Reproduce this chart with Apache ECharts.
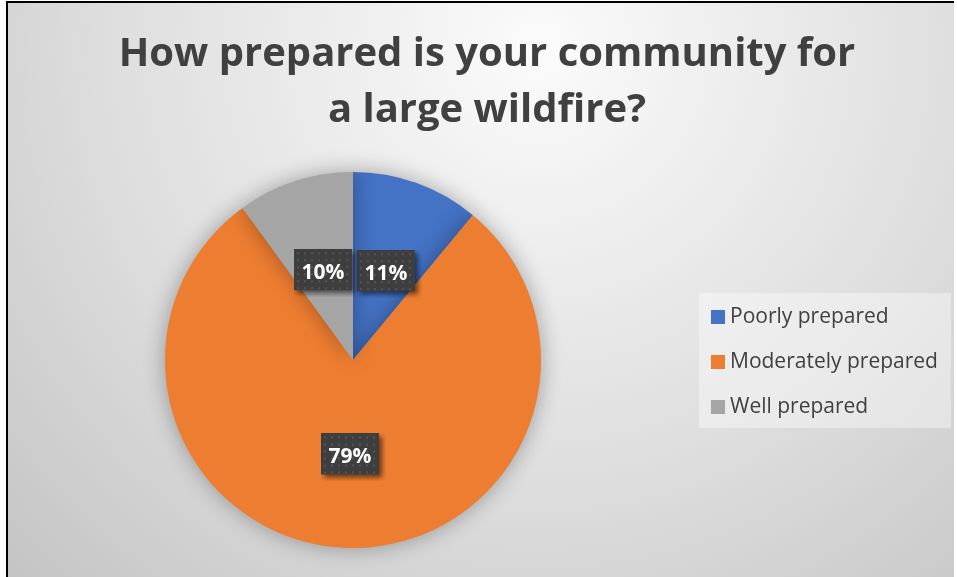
<!DOCTYPE html>
<html>
<head>
<meta charset="utf-8">
<script src="https://cdn.jsdelivr.net/npm/echarts@6/dist/echarts.min.js"></script>
<style>
  html, body { margin: 0; padding: 0; background: #ffffff; width: 957px; height: 577px; overflow: hidden; }
  #frame { position: absolute; left: 6px; top: 1px; width: 946px; height: 574px; border-left: 2px solid #000; border-top: 2px solid #000; }
  #chart { width: 946px; height: 574px; }
</style>
</head>
<body>
<div id="frame"><div id="chart"></div></div>
<script>
const titleText = 'How prepared is your community for\na large wildfire?';
const categories = ['Poorly prepared', 'Moderately prepared', 'Well prepared'];
const values = [11, 79, 10];
const colors = ['#4472C4', '#ED7D31', '#A5A5A5'];

// dotted dark label box with drop shadow, drawn into a canvas used as label background
function makeLabelBg(w, h, extra) {
  const c = document.createElement('canvas');
  c.width = w + extra; c.height = h + extra;
  const ctx = c.getContext('2d');
  ctx.save();
  ctx.shadowColor = 'rgba(0,0,0,0.55)';
  ctx.shadowBlur = 5;
  ctx.shadowOffsetX = 3;
  ctx.shadowOffsetY = 3;
  ctx.fillStyle = '#3e3e3e';
  ctx.fillRect(0, 0, w, h);
  ctx.restore();
  ctx.fillStyle = '#555555';
  for (let y = 3; y < h - 1; y += 7) {
    for (let x = 3; x < w - 1; x += 7) {
      ctx.fillRect(x, y, 2, 2);
    }
  }
  return c;
}
const BOX_W = 58, BOX_H = 41, EXTRA = 7;
const labelBg = makeLabelBg(BOX_W, BOX_H, EXTRA);

const chart = echarts.init(document.getElementById('chart'), null, { renderer: 'canvas' });
chart.setOption({
  animation: false,
  backgroundColor: {
    type: 'radial', x: 0.56, y: 0.08, r: 1.35,
    colorStops: [
      { offset: 0, color: '#fbfbfb' },
      { offset: 0.55, color: '#dedede' },
      { offset: 1, color: '#c2c2c2' }
    ]
  },
  title: {
    text: titleText,
    left: 479,
    top: 24,
    padding: 0,
    textAlign: 'center',
    textStyle: {
      fontFamily: 'Open Sans',
      fontWeight: 'bold',
      fontSize: 40,
      lineHeight: 56,
      color: '#404040'
    }
  },
  legend: {
    orient: 'vertical',
    left: 691,
    top: 290,
    data: categories,
    icon: 'rect',
    itemWidth: 14,
    itemHeight: 14,
    itemGap: 21,
    padding: [12, 13, 9, 12],
    backgroundColor: 'rgba(255,255,255,0.38)',
    selectedMode: false,
    textStyle: {
      fontFamily: 'Open Sans',
      fontSize: 21,
      lineHeight: 24,
      color: '#404040'
    }
  },
  series: [{
    type: 'pie',
    center: [345, 357],
    radius: 188,
    startAngle: 90,
    clockwise: true,
    silent: true,
    avoidLabelOverlap: false,
    labelLayout: { hideOverlap: false },
    data: categories.map((name, i) => ({
      name: name,
      value: values[i],
      itemStyle: { color: colors[i] },
      // small top slices: nudge the label box down slightly, as in the reference
      label: values[i] < 50 ? { offset: [EXTRA / 2, 5.5] } : undefined
    })),
    itemStyle: {
      shadowBlur: 22,
      shadowColor: 'rgba(0,0,0,0.32)'
    },
    label: {
      show: true,
      position: 'inside',
      formatter: '{c}%',
      fontFamily: 'Open Sans',
      fontWeight: 'bold',
      fontSize: 21,
      color: '#ffffff',
      width: 44,
      height: 25,
      align: 'center',
      lineHeight: 25,
      padding: [8, 7 + EXTRA, 8 + EXTRA, 7],
      offset: [EXTRA / 2, 0.5],
      backgroundColor: { image: labelBg }
    },
    labelLine: { show: false },
    emphasis: { disabled: true }
  }]
});
</script>
</body>
</html>
